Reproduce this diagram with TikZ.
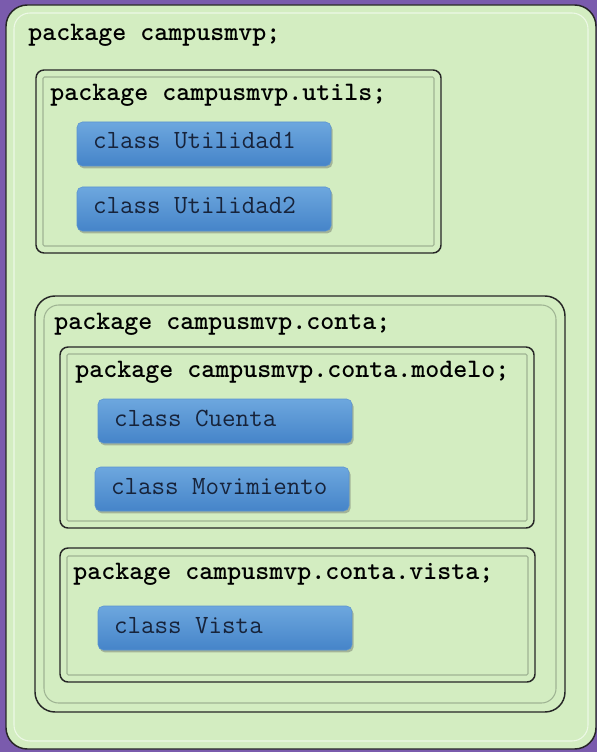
\documentclass[tikz,border=0pt]{standalone}
\usepackage{fontspec}
\usetikzlibrary{shadows}
\definecolor{bgpurple}{HTML}{7A5BAD}
\definecolor{pkggreen}{HTML}{D3EDC1}
\definecolor{edgecol}{HTML}{262626}
\definecolor{innercol}{HTML}{9FB493}
\definecolor{bluetop}{HTML}{6DA7DE}
\definecolor{bluebot}{HTML}{4584C9}
\definecolor{blueedge}{HTML}{5A93D0}
\definecolor{classtext}{HTML}{17233A}
\newcommand\clsname[1]{{\spaceskip=0pt\xspaceskip=0pt #1}}
\begin{document}
\begin{tikzpicture}[x=0.75pt,y=-0.75pt,
  outerline/.style={draw=edgecol,line width=1.1pt,fill=pkggreen},
  innerline/.style={draw=innercol,line width=0.8pt},
  pkglabel/.style={anchor=base west,inner sep=0pt,font=\ttfamily\bfseries\fontsize{20}{22}\selectfont,text=black},
  classbox/.style={rectangle,rounded corners=4pt,draw=blueedge,line width=0.4pt,
    top color=bluetop,bottom color=bluebot,
    drop shadow={shadow xshift=1.2pt,shadow yshift=-1.8pt,opacity=0.35,fill=black!70},
    minimum width=190.5pt,minimum height=33pt,inner xsep=12pt,inner ysep=0pt,
    text width=166.5pt,align=left,text height=12pt,text depth=4.5pt,
    font=\ttfamily\fontsize{19.7}{22}\selectfont,text=classtext}
]
\useasboundingbox (0,0) rectangle (597,752);
\fill[bgpurple] (0,0) rectangle (597,752);

% root package
\draw[outerline,rounded corners=16pt] (6,5) rectangle (596,749);
\draw[innerline,draw=white!60!pkggreen,rounded corners=12pt] (14,13) rectangle (588,741);
\node[pkglabel] (proot) at (28,41) {package campusmvp;};

% utils
\draw[outerline,rounded corners=6pt] (36,70) rectangle (441,253);
\draw[innerline,rounded corners=1pt] (43,77) rectangle (434,246);
\node[pkglabel] (putils) at (50,101) {package campusmvp.utils;};
\node[classbox] (u1) at (204,144) {\clsname{class Utilidad1}};
\node[classbox] (u2) at (204,209) {\clsname{class Utilidad2}};

% conta
\draw[outerline,rounded corners=15pt] (35,296) rectangle (565,712);
\draw[innerline,rounded corners=11pt] (44,305) rectangle (556,703);
\node[pkglabel] (pconta) at (54,329) {package campusmvp.conta;};

% modelo
\draw[outerline,rounded corners=6pt] (60,347) rectangle (534,528);
\draw[innerline,rounded corners=1pt] (67,354) rectangle (527,521);
\node[pkglabel] (pmodelo) at (75,377) {package campusmvp.conta.modelo;};
\node[classbox] (cuenta) at (225,421) {\clsname{class Cuenta}};
\node[classbox] (movim) at (222,489) {\clsname{class Movimiento}};

% vista
\draw[outerline,rounded corners=6pt] (60,548) rectangle (535,682);
\draw[innerline,rounded corners=1pt] (67,556) rectangle (528,675);
\node[pkglabel] (pvista) at (73,579) {package campusmvp.conta.vista;};
\node[classbox] (vista) at (225,628) {\clsname{class Vista}};
\end{tikzpicture}
\end{document}
